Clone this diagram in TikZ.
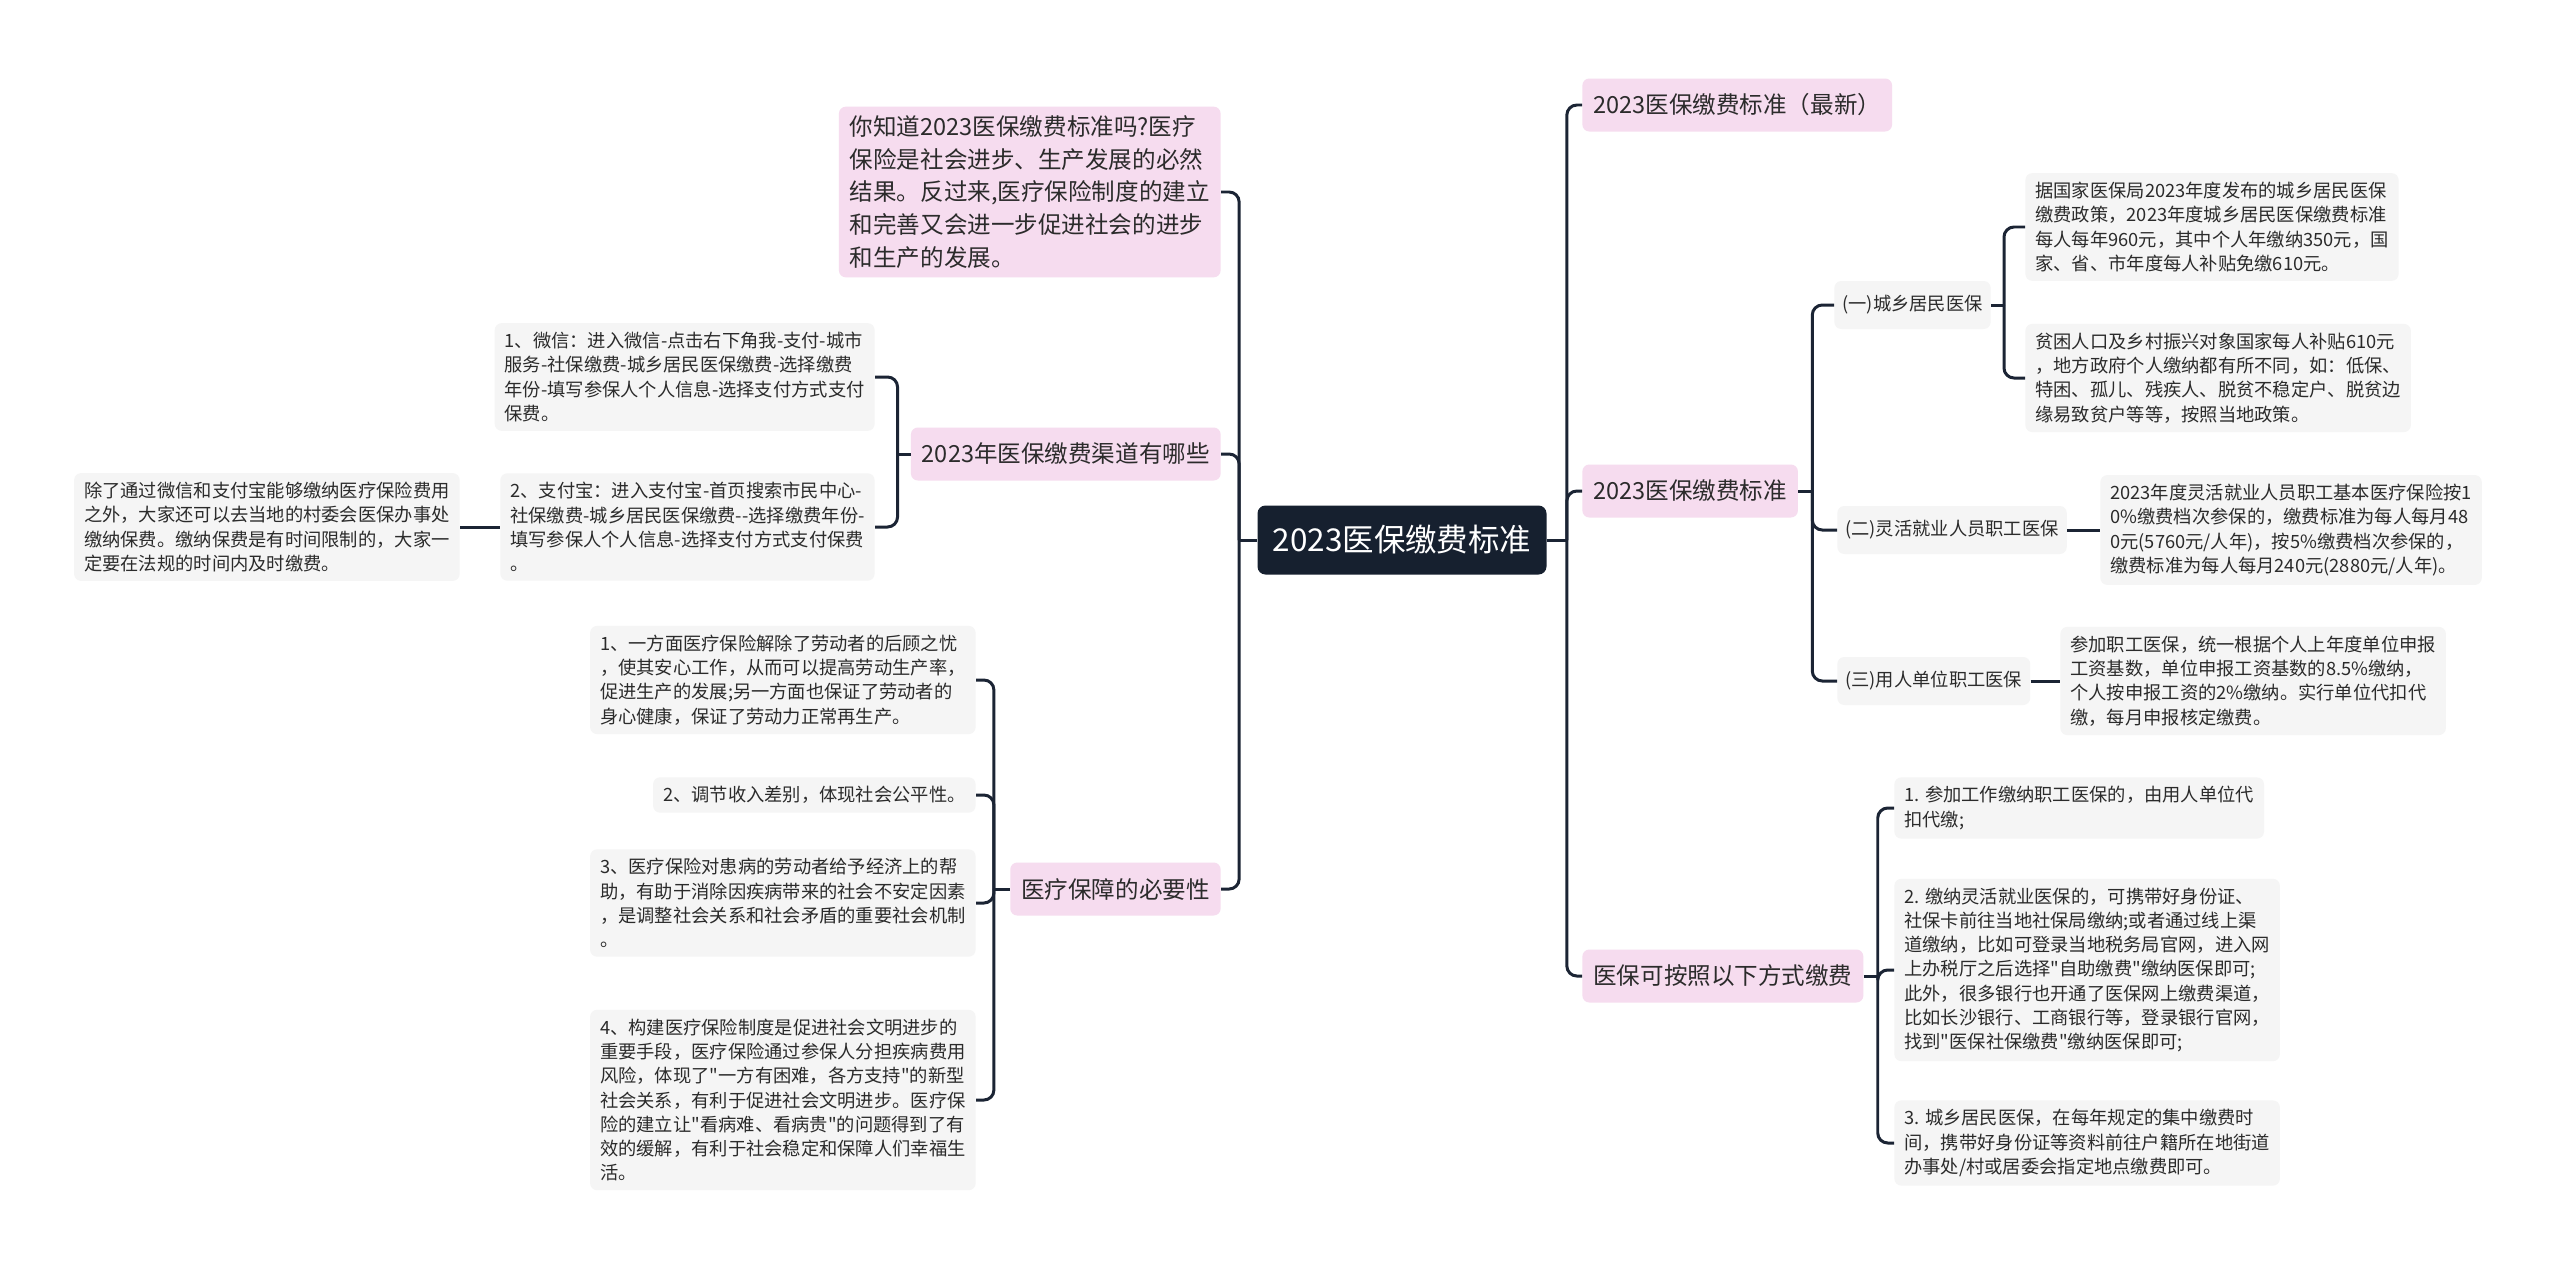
\documentclass[tikz,border=0pt]{standalone}
\usepackage{fontspec}
\setmainfont{Noto Sans CJK SC}[Ligatures=TeXOff]
\usetikzlibrary{positioning}

\definecolor{rootbg}{HTML}{16202F}
\definecolor{pinkbg}{HTML}{F6DCEF}
\definecolor{graybg}{HTML}{F5F5F5}
\definecolor{linecol}{HTML}{1B2434}
\definecolor{textcol}{HTML}{2B2B2B}

\tikzset{
  root/.style={fill=rootbg, text=white, rounded corners=1.6mm,
    font=\fontsize{17.9}{21}\selectfont, minimum width=57.8mm, minimum height=13.8mm},
  topic/.style={fill=pinkbg, text=textcol, rounded corners=1.4mm, align=left,
    font=\fontsize{13.4}{18.6}\selectfont, inner xsep=2.2mm, inner ysep=1.8mm, minimum height=10.6mm},
  branch/.style={fill=graybg, text=textcol, rounded corners=1.4mm,
    font=\fontsize{10.4}{13.8}\selectfont, inner xsep=1.6mm, minimum height=9.6mm},
  leaf/.style={fill=graybg, text=textcol, rounded corners=1.4mm, align=left,
    font=\fontsize{10.4}{13.8}\selectfont, inner xsep=2mm, inner ysep=1.8mm},
  link/.style={draw=linecol, line width=1.7pt, rounded corners=2mm},
}

\begin{document}
\begin{tikzpicture}[x=0.2mm, y=-0.2mm]
\useasboundingbox[fill=white] (0,0) rectangle (2560,1267);

% centre
\node[root] (root) at (1402,540) {2023医保缴费标准};

% right topics
\node[topic, anchor=west] (newest) at (1582,105) {2023医保缴费标准（最新）};
\node[topic, anchor=west] (std) at (1582,491) {2023医保缴费标准};
\node[topic, anchor=west] (ways) at (1582,976) {医保可按照以下方式缴费};

% left topics
\node[topic, anchor=east] (intro) at (1221,192) {你知道2023医保缴费标准吗?医疗\\保险是社会进步、生产发展的必然\\结果。反过来,医疗保险制度的建立\\和完善又会进一步促进社会的进步\\和生产的发展。};
\node[topic, anchor=east] (channel) at (1221,454) {2023年医保缴费渠道有哪些};
\node[topic, anchor=east] (need) at (1221,889) {医疗保障的必要性};

% 2023医保缴费标准
\node[branch, anchor=west] (rural) at (1834,305) {(一)城乡居民医保};
\node[branch, anchor=west] (flex) at (1837,530) {(二)灵活就业人员职工医保};
\node[branch, anchor=west] (staff) at (1837,681) {(三)用人单位职工医保};

\node[leaf, anchor=west] (rural1) at (2025,227) {据国家医保局2023年度发布的城乡居民医保\\缴费政策，2023年度城乡居民医保缴费标准\\每人每年960元，其中个人年缴纳350元，国\\家、省、市年度每人补贴免缴610元。};
\node[leaf, anchor=west] (rural2) at (2025,378) {贫困人口及乡村振兴对象国家每人补贴610元\\，地方政府个人缴纳都有所不同，如：低保、\\特困、孤儿、残疾人、脱贫不稳定户、脱贫边\\缘易致贫户等等，按照当地政策。};
\node[leaf, anchor=west] (flex1) at (2100,530) {2023年度灵活就业人员职工基本医疗保险按1\\0\%缴费档次参保的，缴费标准为每人每月48\\0元(5760元/人年)，按5\%缴费档次参保的，\\缴费标准为每人每月240元(2880元/人年)。};
\node[leaf, anchor=west] (staff1) at (2060,681) {参加职工医保，统一根据个人上年度单位申报\\工资基数，单位申报工资基数的8.5\%缴纳，\\个人按申报工资的2\%缴纳。实行单位代扣代\\缴，每月申报核定缴费。};

% 医保可按照以下方式缴费
\node[leaf, anchor=west] (way1) at (1894,808) {1. 参加工作缴纳职工医保的，由用人单位代\\扣代缴;};
\node[leaf, anchor=west] (way2) at (1894,970) {2. 缴纳灵活就业医保的，可携带好身份证、\\社保卡前往当地社保局缴纳;或者通过线上渠\\道缴纳，比如可登录当地税务局官网，进入网\\上办税厅之后选择"自助缴费"缴纳医保即可;\\此外，很多银行也开通了医保网上缴费渠道，\\比如长沙银行、工商银行等，登录银行官网，\\找到"医保社保缴费"缴纳医保即可;};
\node[leaf, anchor=west] (way3) at (1894,1143) {3. 城乡居民医保，在每年规定的集中缴费时\\间，携带好身份证等资料前往户籍所在地街道\\办事处/村或居委会指定地点缴费即可。};

% 缴费渠道
\node[leaf, anchor=east] (wechat) at (875,377) {1、微信：进入微信-点击右下角我-支付-城市\\服务-社保缴费-城乡居民医保缴费-选择缴费\\年份-填写参保人个人信息-选择支付方式支付\\保费。};
\node[leaf, anchor=east] (alipay) at (875,527) {2、支付宝：进入支付宝-首页搜索市民中心-\\社保缴费-城乡居民医保缴费--选择缴费年份-\\填写参保人个人信息-选择支付方式支付保费\\。};
\node[leaf, anchor=east] (office) at (460,527) {除了通过微信和支付宝能够缴纳医疗保险费用\\之外，大家还可以去当地的村委会医保办事处\\缴纳保费。缴纳保费是有时间限制的，大家一\\定要在法规的时间内及时缴费。};

% 必要性
\node[leaf, anchor=east] (need1) at (976,680) {1、一方面医疗保险解除了劳动者的后顾之忧\\，使其安心工作，从而可以提高劳动生产率，\\促进生产的发展;另一方面也保证了劳动者的\\身心健康，保证了劳动力正常再生产。};
\node[leaf, anchor=east] (need2) at (976,795) {2、调节收入差别，体现社会公平性。};
\node[leaf, anchor=east] (need3) at (976,903) {3、医疗保险对患病的劳动者给予经济上的帮\\助，有助于消除因疾病带来的社会不安定因素\\，是调整社会关系和社会矛盾的重要社会机制\\。};
\node[leaf, anchor=east] (need4) at (976,1100) {4、构建医疗保险制度是促进社会文明进步的\\重要手段，医疗保险通过参保人分担疾病费用\\风险，体现了"一方有困难，各方支持"的新型\\社会关系，有利于促进社会文明进步。医疗保\\险的建立让"看病难、看病贵"的问题得到了有\\效的缓解，有利于社会稳定和保障人们幸福生\\活。};

% connectors, right side
\draw[link] (root.east) -- ++(20,0) coordinate (jr);
\foreach \c in {newest, std, ways} \draw[link] (jr) |- (\c.west);
\draw[link] (std.east) -- ++(14,0) coordinate (jstd);
\foreach \c in {rural, flex, staff} \draw[link] (jstd) |- (\c.west);
\draw[link] (rural.east) -- ++(13,0) coordinate (jrural);
\foreach \c in {rural1, rural2} \draw[link] (jrural) |- (\c.west);
\draw[link] (flex.east) -- (flex1.west);
\draw[link] (staff.east) -- (staff1.west);
\draw[link] (ways.east) -- ++(14,0) coordinate (jways);
\foreach \c in {way1, way2, way3} \draw[link] (jways) |- (\c.west);

% connectors, left side
\draw[link] (root.west) -- ++(-18,0) coordinate (jl);
\foreach \c in {intro, channel, need} \draw[link] (jl) |- (\c.east);
\draw[link] (channel.west) -- ++(-13,0) coordinate (jch);
\foreach \c in {wechat, alipay} \draw[link] (jch) |- (\c.east);
\draw[link] (alipay.west) -- (office.east);
\draw[link] (need.west) -- ++(-16,0) coordinate (jneed);
\foreach \c in {need1, need2, need3, need4} \draw[link] (jneed) |- (\c.east);

\end{tikzpicture}
\end{document}
